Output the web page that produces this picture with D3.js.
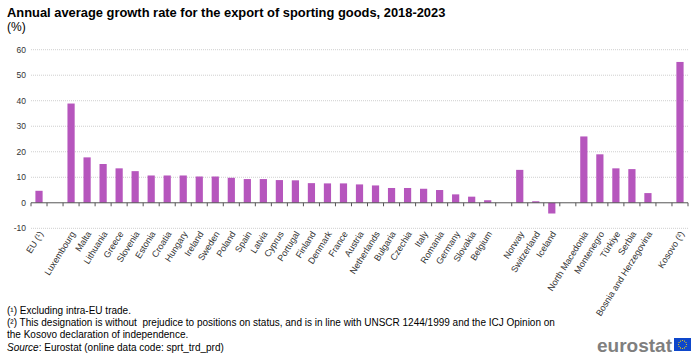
<!DOCTYPE html>
<html><head><meta charset="utf-8">
<script src="https://cdn.jsdelivr.net/npm/d3@7"></script>
<style>body{margin:0;background:#fff;} svg{display:block;font-family:"Liberation Sans",Arial,sans-serif;}</style>
</head><body>
<svg id="c" width="700" height="359"></svg>
<script>
const categories = ["EU (¹)","","Luxembourg","Malta","Lithuania","Greece","Slovenia","Estonia","Croatia","Hungary","Ireland","Sweden","Poland","Spain","Latvia","Cyprus","Portugal","Finland","Denmark","France","Austria","Netherlands","Bulgaria","Czechia","Italy","Romania","Germany","Slovakia","Belgium","","Norway","Switzerland","Iceland","","North Macedonia","Montenegro","Türkiye","Serbia","Bosnia and Herzegovina","","Kosovo (²)"];
const values = [4.7,null,38.9,17.8,15.2,13.5,12.4,10.7,10.7,10.7,10.3,10.3,9.8,9.3,9.3,8.9,8.8,7.7,7.6,7.6,7.2,6.8,5.8,5.8,5.5,5.0,3.3,2.4,1.0,null,12.9,0.6,-4.2,null,26.0,19.0,13.5,13.2,3.8,null,55.2];
const yTicks = [-10,0,10,20,30,40,50,60];

const svg = d3.select("#c");
const keys = categories.map((c,i)=>i);
const x = d3.scaleBand().domain(keys).range([31,688]).paddingInner(0.55).paddingOuter(0.275);
const y = d3.scaleLinear().domain([-10,60]).range([228.3,49.7]);

// title
svg.append("text").attr("x",7).attr("y",17).attr("font-size",12.9).attr("font-weight","bold").attr("fill","#000")
  .text("Annual average growth rate for the export of sporting goods, 2018-2023");
svg.append("text").attr("x",7).attr("y",31).attr("font-size",12).attr("fill","#000").text("(%)");

// grid
svg.append("g").selectAll("line").data(yTicks.filter(d=>d!==0)).join("line")
  .attr("x1",31).attr("x2",688).attr("y1",d=>y(d)).attr("y2",d=>y(d))
  .attr("stroke","#cfcfcf").attr("stroke-width",1).attr("stroke-dasharray","1,1");

// y labels
svg.append("g").selectAll("text").data(yTicks).join("text")
  .attr("x",26).attr("y",d=>y(d)).attr("dy","0.35em").attr("text-anchor","end")
  .attr("font-size",8.5).attr("fill","#333").text(d=>d);

// bars
svg.append("g").selectAll("rect").data(keys.filter(i=>values[i]!==null)).join("rect")
  .attr("x",i=>x(i)).attr("width",x.bandwidth())
  .attr("y",i=>y(Math.max(0,values[i]))).attr("height",i=>Math.abs(y(values[i])-y(0)))
  .attr("fill","#b656bd");

// zero axis
svg.append("line").attr("x1",31).attr("x2",688).attr("y1",y(0)).attr("y2",y(0)).attr("stroke","#555").attr("stroke-width",1);
const step = x.step();
svg.append("g").selectAll("line").data(d3.range(categories.length+1)).join("line")
  .attr("x1",i=>31+i*step).attr("x2",i=>31+i*step).attr("y1",y(0)).attr("y2",y(0)+3.5)
  .attr("stroke","#555").attr("stroke-width",1);

// x labels
svg.append("g").selectAll("text").data(keys.filter(i=>categories[i]!=="")).join("text")
  .attr("transform",i=>`translate(${x(i)+x.bandwidth()/2+2},232) rotate(-58)`)
  .attr("text-anchor","end").attr("dy","0.35em").attr("font-size",9).attr("fill","#333")
  .text(i=>categories[i]);

// footnotes
const notes = ["(¹) Excluding intra-EU trade.",
 "(²) This designation is without  prejudice to positions on status, and is in line with UNSCR 1244/1999 and the ICJ Opinion on",
 "the Kosovo declaration of independence."];
const ny = [314,326,338];
notes.forEach((t,k)=>svg.append("text").attr("x",7).attr("y",ny[k]).attr("font-size",10).attr("fill","#000").attr("xml:space","preserve").text(t));
const src = svg.append("text").attr("x",7).attr("y",351).attr("font-size",10).attr("fill","#000");
src.append("tspan").attr("font-style","italic").text("Source");
src.append("tspan").text(": Eurostat (online data code: sprt_trd_prd)");

// logo
svg.append("text").attr("x",672).attr("y",352).attr("text-anchor","end").attr("font-size",19).attr("font-weight","bold").attr("fill","#7f7f7f").text("eurostat");
svg.append("rect").attr("x",674).attr("y",338).attr("width",17).attr("height",13).attr("fill","#0e47cb");
d3.range(12).forEach(k=>{const a=k/12*2*Math.PI;svg.append("circle").attr("cx",682.5+4*Math.cos(a)).attr("cy",344.5+4*Math.sin(a)).attr("r",0.6).attr("fill","#ffdd00");});
</script>
</body></html>
